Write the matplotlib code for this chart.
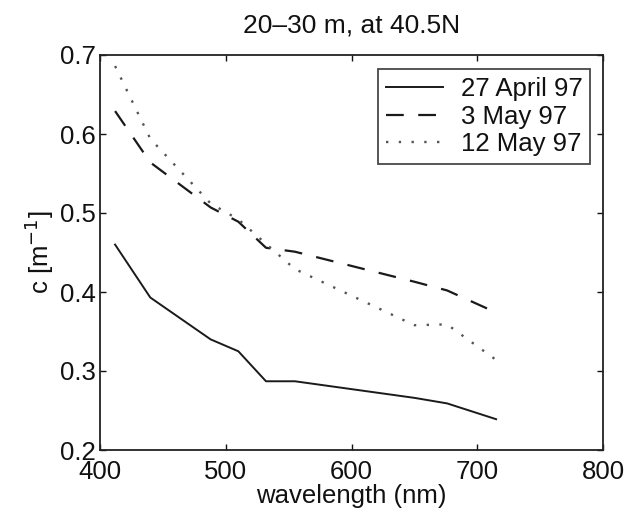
import matplotlib
matplotlib.use("Agg")
import matplotlib.pyplot as plt

plt.rcParams['font.family'] = ['Liberation Sans', 'DejaVu Sans']

wavelength = [412, 440, 488, 510, 532, 555, 650, 676, 715]
c_27apr = [0.460, 0.393, 0.340, 0.325, 0.287, 0.287, 0.266, 0.259, 0.239]
c_3may = [0.629, 0.564, 0.507, 0.489, 0.456, 0.451, 0.413, 0.402, 0.374]
c_12may = [0.686, 0.594, 0.512, 0.492, 0.461, 0.429, 0.358, 0.359, 0.314]
labels = ['27 April 97', '3 May 97', '12 May 97']
xticks = [400, 500, 600, 700, 800]
yticks = [0.2, 0.3, 0.4, 0.5, 0.6, 0.7]

fig = plt.figure(figsize=(6.29, 5.24), dpi=100)
ax = fig.add_axes([100/629, 1-450/524, 503/629, 395/524])

ax.plot(wavelength, c_27apr, color='#1a1a1a', lw=1.4, linestyle='-', label=labels[0])
ax.plot(wavelength, c_3may, color='#1a1a1a', lw=1.6, linestyle=(0, (8, 6.5)), label=labels[1])
ax.plot(wavelength, c_12may, color='#555555', lw=1.7, linestyle=(0, (1, 4.4)), label=labels[2])

ax.set_xlim(400, 800)
ax.set_ylim(0.2, 0.7)
ax.set_xticks(xticks)
ax.set_yticks(yticks)
ax.set_xticklabels([str(v) for v in xticks])
ax.set_yticklabels([f'{v:.1f}' for v in yticks])
ax.tick_params(direction='in', length=4, width=1, top=True, right=True, labelsize=18.5, pad=3, colors='#111111')
ax.tick_params(axis='x', pad=7.5)
for s in ax.spines.values():
    s.set_linewidth(1.3)
    s.set_color('#222222')

ax.set_title('20\u201330 m, at 40.5N', fontsize=19, pad=16, color='#111111')
ax.set_xlabel('wavelength (nm)', fontsize=18.5, labelpad=0, color='#111111')
ax.set_ylabel('c [m$^{-1}$]', fontsize=18.5, labelpad=3, color='#111111')

leg = ax.legend(loc='upper right', bbox_to_anchor=(590/629, 1-69/524), bbox_transform=fig.transFigure,
                borderaxespad=0, fontsize=18.5, frameon=True, fancybox=False, handlelength=2.2,
                handletextpad=0.7, labelspacing=0.15, borderpad=0.3)
leg.get_frame().set_edgecolor('#1a1a1a')
leg.get_frame().set_linewidth(1.3)
for t in leg.get_texts():
    t.set_color('#111111')

fig.savefig('out.png', dpi=100)
